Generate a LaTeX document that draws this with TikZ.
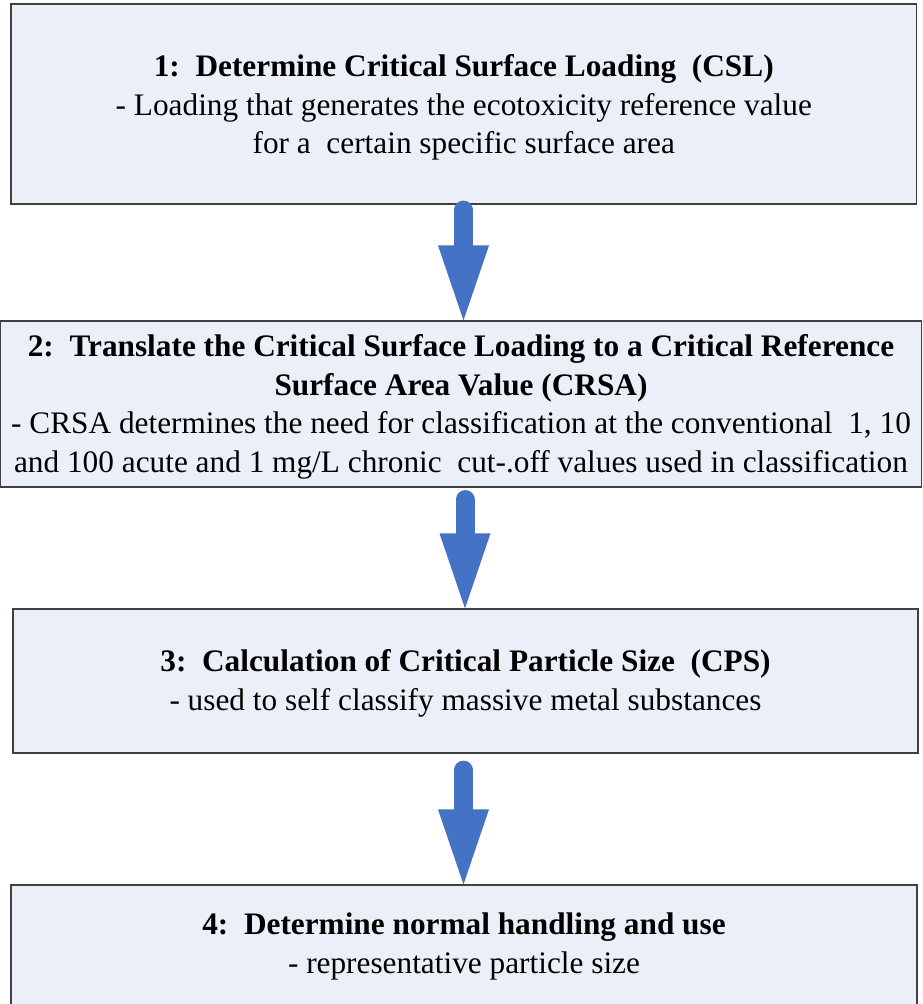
\documentclass[tikz,border=0pt]{standalone}
\usepackage{fontspec}
\setmainfont{Liberation Serif}
\usetikzlibrary{arrows.meta}
\definecolor{boxfill}{HTML}{EBF0F8}
\definecolor{boxline}{HTML}{404040}
\definecolor{arrowblue}{HTML}{4472C4}
\tikzset{
  stepbox/.style={draw=boxline, line width=1.2pt, fill=boxfill, rectangle, inner sep=0pt},
  steptext/.style={align=center, inner sep=0pt, font=\fontsize{31.3}{38.7}\selectfont},
  flow/.style={draw=arrowblue, line width=19pt, line cap=round,
    -{Triangle[width=51pt,length=75pt,line width=0pt,fill=arrowblue]}}
}
\begin{document}
\begin{tikzpicture}[x=1pt,y=-1pt]
\useasboundingbox[fill=white] (0,0) rectangle (922,1004);
\node[stepbox, minimum width=905.5pt, minimum height=200pt] (b1) at (463.75,104) {};
\node[stepbox, minimum width=921pt, minimum height=166pt] (b2) at (461,404) {};
\node[stepbox, minimum width=905pt, minimum height=144pt] (b3) at (465.5,681) {};
\node[stepbox, minimum width=906pt, minimum height=125pt] (b4) at (464,947.5) {};
\node[steptext] (t1) at ([yshift=-3.5pt]b1.center)
  {\textbf{1:\ \ Determine Critical Surface Loading\ \ (CSL)}\\
   - Loading that generates the ecotoxicity reference value\\
   for a\ \ certain specific surface area};
\node[steptext] (t2) at ([yshift=-3pt]b2.center)
  {\textbf{2:\ \ Translate the Critical Surface Loading to a Critical Reference}\\
   \textbf{Surface Area Value (CRSA)}\\
   - CRSA determines the need for classification at the conventional\ \ 1, 10\\
   and 100 acute and 1 mg/L chronic\ \ cut-.off values used in classification};
\node[steptext] (t3) at ([yshift=-2pt]b3.center)
  {\textbf{3:\ \ Calculation of Critical Particle Size\ \ (CPS)}\\
   - used to self classify massive metal substances};
\node[steptext] (t4) at ([yshift=1pt]b4.center)
  {\textbf{4:\ \ Determine normal handling and use}\\
   - representative particle size};
\coordinate (s1) at ([xshift=-0.25pt,yshift=-5.5pt]b1.south);
\coordinate (s2) at ([xshift=4pt,yshift=-12pt]b2.south);
\coordinate (s3) at ([xshift=-2pt,yshift=-16.5pt]b3.south);
\draw[flow] (s1) -- (b2.north -| s1);
\draw[flow] (s2) -- (b3.north -| s2);
\draw[flow] (s3) -- (b4.north -| s3);
\end{tikzpicture}
\end{document}
